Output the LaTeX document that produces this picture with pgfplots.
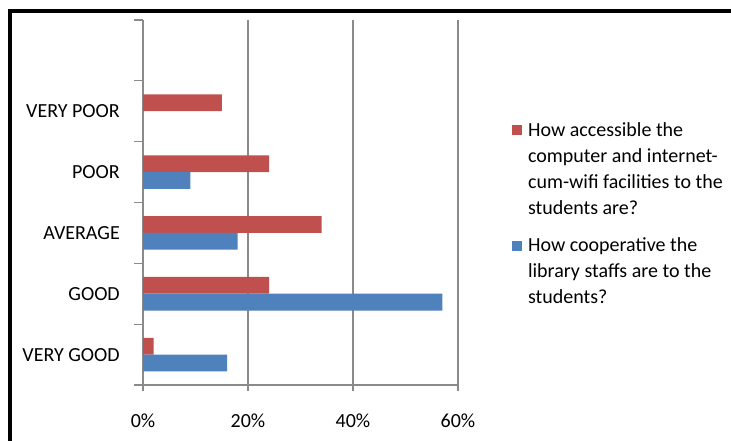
\documentclass[border=0pt]{standalone}
\usepackage{pgfplots}
\pgfplotsset{compat=1.18}
\usepackage{fontspec}
\setmainfont{Carlito}
\definecolor{exred}{HTML}{C0504D}
\definecolor{exblue}{HTML}{4F81BD}
\definecolor{axgray}{HTML}{8A8A8A}
\begin{document}
\begin{tikzpicture}[font=\fontsize{20}{26}\selectfont]
\useasboundingbox (0,0) rectangle (731pt,441pt);
\fill[white] (0,0) rectangle (731pt,441pt);
\draw[line width=4pt] (9.5pt,0) -- (9.5pt,430pt) -- (731pt,430pt);
\begin{axis}[
  at={(143pt,56pt)}, anchor=south west,
  scale only axis, width=315pt, height=365pt,
  xmin=0, xmax=60, ymin=-0.5, ymax=5.5,
  axis x line*=bottom, axis y line*=left,
  axis line style={axgray, line width=1.3pt},
  xtick={0,20,40,60}, xticklabels={0\%,20\%,40\%,60\%},
  ytick={0,1,2,3,4},
  yticklabels={VERY GOOD,GOOD,AVERAGE,POOR,VERY POOR},
  minor ytick={-0.5,0.5,...,5.5},
  tick align=outside, major tick length=6pt, minor tick length=9pt,
  tick style={axgray, line width=1.3pt},
  every major y tick/.append style={draw=none},
  xmajorgrids, grid style={axgray, line width=1.3pt},
  yticklabel style={inner sep=0pt, xshift=-17pt},
  xticklabel style={inner sep=0pt, yshift=-23pt},
  xbar, bar width=16.8pt,
  legend style={at={(axis description cs:1.171,0.732)}, anchor=north west,
    draw=none, fill=none, inner sep=0pt, column sep=6pt, row sep=18pt,
    nodes={inner sep=0pt, anchor=base west}},
]
\addplot[fill=exred, draw=none, bar shift=8.4pt,
  legend image code/.code={\fill[exred] (0pt,79pt) rectangle (10pt,89pt);}]
  coordinates {(2,0) (24,1) (34,2) (24,3) (15,4)};
\addlegendentry{\begin{tabular}[b]{@{}l@{}}How accessible the\\computer and internet-\\cum-wifi facilities to the\\students are?\end{tabular}}
\addplot[fill=exblue, draw=none, bar shift=-8.4pt,
  legend image code/.code={\fill[exblue] (0pt,53pt) rectangle (10pt,63pt);}]
  coordinates {(16,0) (57,1) (18,2) (9,3)};
\addlegendentry{\begin{tabular}[b]{@{}l@{}}How cooperative the\\library staffs are to the\\students?\end{tabular}}
\end{axis}
\end{tikzpicture}
\end{document}
